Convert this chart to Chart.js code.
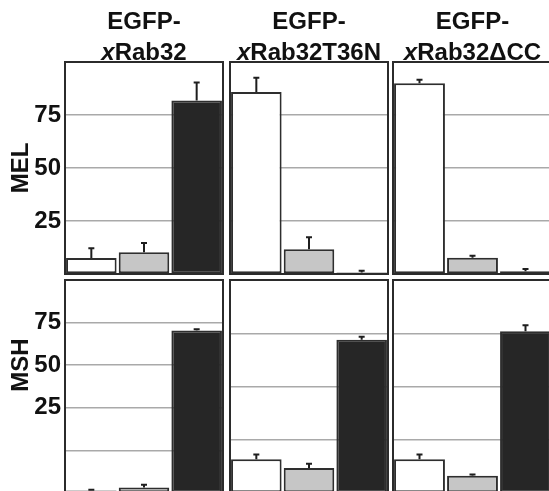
<!DOCTYPE html>
<html><head><meta charset="utf-8">
<script src="https://cdn.jsdelivr.net/npm/chart.js@4.4.1/dist/chart.umd.min.js"></script>
<style>
html,body{margin:0;padding:0;background:#fff;overflow:hidden}
#fig{position:relative;width:549px;height:491px;overflow:hidden;font-family:"Liberation Sans",Arial,sans-serif;font-weight:bold;color:#111}
#fig canvas{position:absolute}
.col{position:absolute;top:5px;width:240px;margin-left:-120px;text-align:center;font-size:24px;line-height:31px}
.row{position:absolute;font-size:24px;line-height:24px;transform:translate(-50%,-50%) rotate(-90deg);white-space:nowrap}
</style></head>
<body><div id="fig"></div>
<script>
// columns (constructs) and rows (treatments)
const constructs=['xRab32','xRab32T36N','xRab32ΔCC'];
const treatments=['MEL','MSH'];
const barClasses=['white','grey','black'];

// bar heights per construct, and upper error
const melValues=[[7.5,10.3,81.8],[85.9,11.7,0.7],[90.0,7.7,1.3]];
const melErrors=[[4.7,4.3,8.5],[6.7,5.6,0.8],[1.6,0.9,1.0]];
const mshValues=[[1.4,3.3,95.3],[15.9,11.7,71.9],[15.8,8.1,75.9]];
const mshErrors=[[0.5,1.6,0.8],[2.2,2.0,1.4],[2.3,0.6,2.9]];

// y axis tops per panel, tick labels shown on the left column
const melMax=[100,100,100];
const mshMax=[125,100,100];
const melTickValues=[75,50,25], melTickLabels=['75','50','25'];
const mshTickValues=[100,75,50], mshTickLabels=['75','50','25'];

const FONT='"Liberation Sans", Arial, sans-serif';
const barColors=['#ffffff','#c6c6c6','#262626'];
const colX=[[65,223],[230,388],[393,552]];
const rowY=[[62,274],[280,493]];
const fig=document.getElementById('fig');

const errorBars={id:'errorBars',afterDatasetsDraw(chart){
  const ctx=chart.ctx,y=chart.scales.y,ds=chart.data.datasets[0];
  ctx.save();ctx.strokeStyle='#1e1e1e';ctx.lineWidth=2;
  chart.getDatasetMeta(0).data.forEach((bar,i)=>{
    const top=y.getPixelForValue(ds.data[i]+ds.errors[i]);
    ctx.beginPath();ctx.moveTo(bar.x,bar.y);ctx.lineTo(bar.x,top);
    ctx.moveTo(bar.x-3,top);ctx.lineTo(bar.x+3,top);ctx.stroke();
  });
  ctx.restore();
}};
const frame={id:'frame',afterDraw(chart){
  const a=chart.chartArea,ctx=chart.ctx;
  ctx.save();ctx.strokeStyle='#2b2b2b';ctx.lineWidth=2;
  ctx.strokeRect(a.left,a.top,a.right-a.left,a.bottom-a.top);ctx.restore();
}};

function panel(r,c,values,errors,max,tickValues,tickLabels){
  const [x0,x1]=colX[c],[y0,y1]=rowY[r],ticks=c===0;
  const cv=document.createElement('canvas');
  const left=ticks?0:x0-3,top=y0-3;
  cv.width=x1+3-left;cv.height=y1+3-top;
  cv.style.left=left+'px';cv.style.top=top+'px';
  fig.appendChild(cv);
  new Chart(cv,{type:'bar',
    data:{labels:barClasses,datasets:[{data:values,errors:errors,
      backgroundColor:barColors,borderColor:'#2e2e2e',borderWidth:2,borderSkipped:false,
      barPercentage:0.96,categoryPercentage:1}]},
    options:{responsive:false,animation:false,devicePixelRatio:1,
      layout:{padding:{left:ticks?0:3,right:3,top:3,bottom:3}},
      plugins:{legend:{display:false},tooltip:{enabled:false}},
      scales:{x:{display:false},
        y:{min:0,max:max,
          afterFit:s=>{s.width=ticks?x0:0;s.paddingTop=0;s.paddingBottom=0;},
          border:{display:false},
          grid:{drawTicks:false,lineWidth:1.5,color:g=>(g.tick.value>0&&g.tick.value<max)?'#a9a9a9':'rgba(0,0,0,0)'},
          ticks:{display:ticks,stepSize:25,padding:4,color:'#111',autoSkip:false,
            font:{family:FONT,size:24,weight:'bold'},
            callback:v=>{const k=tickValues.indexOf(v);return k<0?'':tickLabels[k];}}}}},
    plugins:[errorBars,frame]});
}

constructs.forEach((name,c)=>{
  panel(0,c,melValues[c],melErrors[c],melMax[c],melTickValues,melTickLabels);
  panel(1,c,mshValues[c],mshErrors[c],mshMax[c],mshTickValues,mshTickLabels);
  const t=document.createElement('div');t.className='col';
  t.style.left=((colX[c][0]+colX[c][1])/2)+'px';
  t.innerHTML='EGFP-<br><i>'+name[0]+'</i>'+name.slice(1);
  fig.appendChild(t);
});
const rowCenters=[168,365];
treatments.forEach((name,r)=>{
  const d=document.createElement('div');d.className='row';
  d.style.left='20px';d.style.top=rowCenters[r]+'px';d.textContent=name;
  fig.appendChild(d);
});
</script>
</body></html>
